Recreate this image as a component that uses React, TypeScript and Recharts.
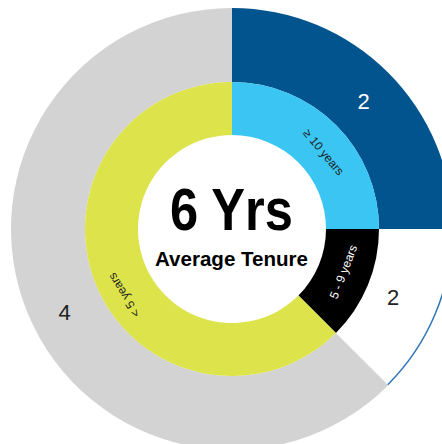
import React from 'react';
import { PieChart, Pie, Cell } from 'recharts';

// tenure bands (inner ring) and the matching head-count ring (outer)
const tenureBands = ['≥ 10 years', '5 - 9 years', '< 5 years'];
const bandShares = [2, 1, 5];
const headCounts = ['2', '2', '4'];

const averageTenure = '6 Yrs';
const averageCaption = 'Average Tenure';

const innerColors = ['#3ac5f2', '#000000', '#dce34b'];
const innerText = ['#1b1b1b', '#ffffff', '#1b1b1b'];
const outerColors = ['#02548f', '#ffffff', '#d3d3d3'];
const outerText = ['#ffffff', '#222222', '#222222'];
const edgeColors = ['none', '#2e75b6', 'none'];
const flippedBands = ['5 - 9 years'];

// small hand nudges so the labels sit where the original placed them (degrees / px)
const bandLabelNudge = [
  { turn: 5, dr: -1 },
  { turn: -1.5, dr: -1 },
  { turn: -9, dr: 6 },
];
const countLabelNudge = [
  { turn: 1, dr: 1 },
  { turn: 0.5, dr: -7 },
  { turn: -4, dr: 5 },
];

const innerData = tenureBands.map((band, i) => ({ band, value: bandShares[i] }));
const outerData = tenureBands.map((band, i) => ({ band, value: bandShares[i], count: headCounts[i] }));

const RAD = Math.PI / 180;
const CX = 232;
const CY = 229;

const renderBandLabel = (props: any) => {
  const { cx, cy, midAngle, innerRadius, outerRadius, index } = props;
  const nudge = bandLabelNudge[index];
  const r = (innerRadius + outerRadius) / 2 + nudge.dr;
  const ang = midAngle - nudge.turn;
  const x = cx + r * Math.cos(-ang * RAD);
  const y = cy + r * Math.sin(-ang * RAD);
  const theta = 90 - ang; // clockwise from 12 o'clock
  const rot = flippedBands.includes(tenureBands[index]) ? theta - 180 : theta;
  return (
    <text
      x={x}
      y={y}
      fill={innerText[index]}
      fontSize={12}
      fontFamily="Liberation Sans, Arial, sans-serif"
      textAnchor="middle"
      dominantBaseline="central"
      transform={`rotate(${rot}, ${x}, ${y})`}
    >
      {tenureBands[index]}
    </text>
  );
};

const renderCountLabel = (props: any) => {
  const { cx, cy, midAngle, index } = props;
  const nudge = countLabelNudge[index];
  const r = 182 + nudge.dr;
  const ang = midAngle - nudge.turn;
  const x = cx + r * Math.cos(-ang * RAD);
  const y = cy + r * Math.sin(-ang * RAD);
  return (
    <text
      x={x}
      y={y}
      fill={outerText[index]}
      fontSize={22}
      fontFamily="Liberation Sans, Arial, sans-serif"
      textAnchor="middle"
      dominantBaseline="central"
    >
      {headCounts[index]}
    </text>
  );
};

export default function App() {
  return (
    <div style={{ position: 'absolute', left: 0, top: 0, width: 442, height: 444, background: '#fff', overflow: 'hidden' }}>
      <PieChart width={442} height={444} margin={{ top: 0, right: 0, bottom: 0, left: 0 }}>
        <Pie
          data={outerData}
          dataKey="value"
          cx={CX}
          cy={CY}
          innerRadius={147}
          outerRadius={221}
          startAngle={90}
          endAngle={-270}
          stroke="none"
          label={renderCountLabel}
          labelLine={false}
          isAnimationActive={false}
        >
          {outerData.map((d, i) => (
            <Cell key={d.band} fill={outerColors[i]} />
          ))}
        </Pie>
        <Pie
          data={outerData}
          dataKey="value"
          cx={CX}
          cy={CY}
          innerRadius={219.5}
          outerRadius={221}
          startAngle={90}
          endAngle={-270}
          stroke="none"
          isAnimationActive={false}
        >
          {outerData.map((d, i) => (
            <Cell key={d.band} fill={edgeColors[i]} />
          ))}
        </Pie>
        <Pie
          data={innerData}
          dataKey="value"
          cx={CX}
          cy={CY}
          innerRadius={94}
          outerRadius={147}
          startAngle={90}
          endAngle={-270}
          stroke="none"
          label={renderBandLabel}
          labelLine={false}
          isAnimationActive={false}
        >
          {innerData.map((d, i) => (
            <Cell key={d.band} fill={innerColors[i]} />
          ))}
        </Pie>
        <text
          x={231.5}
          y={230}
          textAnchor="middle"
          fontSize={60}
          fontWeight="bold"
          fontFamily="Liberation Sans Narrow, Liberation Sans, Arial, sans-serif"
          textLength={123}
          lengthAdjust="spacingAndGlyphs"
          fill="#000"
        >
          {averageTenure}
        </text>
        <text
          x={231.5}
          y={266}
          textAnchor="middle"
          fontSize={21}
          fontWeight="bold"
          fontFamily="Liberation Sans Narrow, Liberation Sans, Arial, sans-serif"
          textLength={153}
          lengthAdjust="spacingAndGlyphs"
          fill="#000"
        >
          {averageCaption}
        </text>
      </PieChart>
    </div>
  );
}
